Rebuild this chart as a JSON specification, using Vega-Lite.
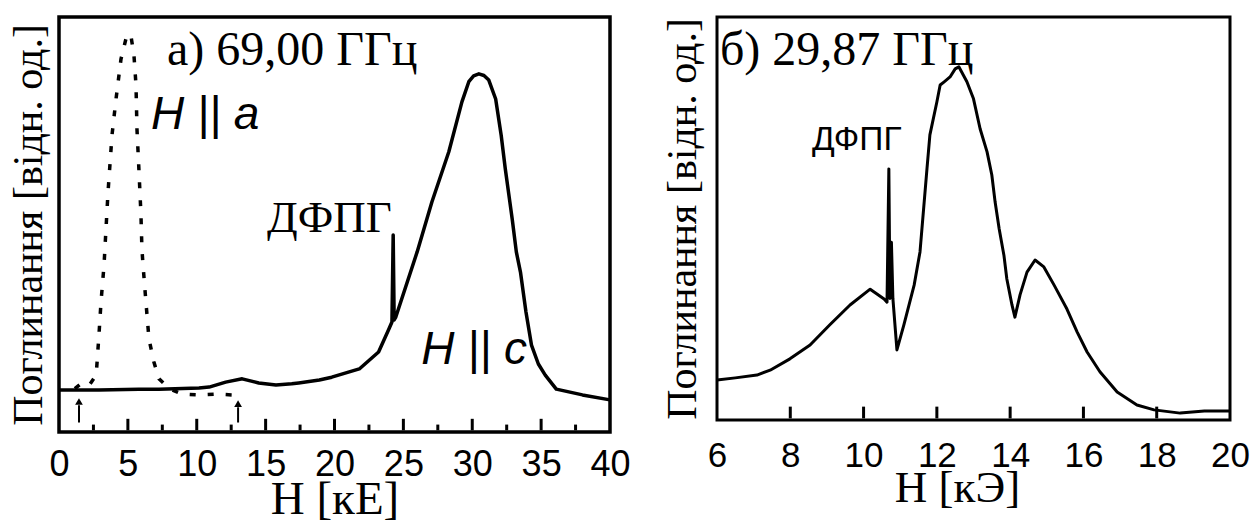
{
  "$schema": "https://vega.github.io/schema/vega-lite/v6.json",
  "background": "white",
  "padding": {"left": 5, "top": 15, "right": 0, "bottom": 0},
  "bounds": "flush",
  "spacing": 107,
  "config": {
    "axis": {"grid": false, "domain": false, "labelColor": "black", "titleColor": "black", "titleFontWeight": "normal"}
  },
  "datasets": {
    "left_c": [
      {"H": 0, "A": 10.2}, {"H": 2.9, "A": 10.2}, {"H": 5.8, "A": 10.4}, {"H": 7.26, "A": 10.4}, {"H": 10.16, "A": 10.7},
      {"H": 10.9, "A": 10.9}, {"H": 12.1, "A": 12.1}, {"H": 13.3, "A": 12.9}, {"H": 14.5, "A": 11.9}, {"H": 15.75, "A": 11.4},
      {"H": 16.9, "A": 11.7}, {"H": 17.4, "A": 11.9}, {"H": 18.9, "A": 12.6}, {"H": 19.8, "A": 13.3}, {"H": 21.8, "A": 15.3},
      {"H": 23.2, "A": 19.4}, {"H": 23.95, "A": 25.0}, {"H": 24.17, "A": 26.7}, {"H": 24.26, "A": 47.8}, {"H": 24.33, "A": 27.2},
      {"H": 24.45, "A": 27.9}, {"H": 26.0, "A": 43.7}, {"H": 27.07, "A": 55.8}, {"H": 28.3, "A": 68.0}, {"H": 29.25, "A": 80.1},
      {"H": 29.75, "A": 85.0}, {"H": 30.1, "A": 86.4}, {"H": 30.48, "A": 86.9}, {"H": 30.85, "A": 86.5}, {"H": 31.2, "A": 85.4},
      {"H": 31.7, "A": 80.8}, {"H": 32.1, "A": 72.0}, {"H": 32.4, "A": 63.8}, {"H": 32.9, "A": 51.7}, {"H": 33.2, "A": 43.7},
      {"H": 33.5, "A": 38.8}, {"H": 33.9, "A": 29.1}, {"H": 34.3, "A": 21.1}, {"H": 34.8, "A": 16.5}, {"H": 35.3, "A": 13.8},
      {"H": 36.1, "A": 10.4}, {"H": 38.0, "A": 9.0}, {"H": 40.0, "A": 7.8}
    ],
    "left_a": [
      {"H": 1.15, "A": 10.5}, {"H": 1.7, "A": 12.0}, {"H": 2.25, "A": 11.6}, {"H": 2.7, "A": 13.8}, {"H": 2.9, "A": 23.5},
      {"H": 3.05, "A": 31.6}, {"H": 3.27, "A": 40.5}, {"H": 3.34, "A": 44.9}, {"H": 3.56, "A": 58.3}, {"H": 3.85, "A": 72.1},
      {"H": 4.14, "A": 80.8}, {"H": 4.5, "A": 90.5}, {"H": 4.86, "A": 95.4}, {"H": 5.2, "A": 96.6}, {"H": 5.44, "A": 91.5},
      {"H": 5.59, "A": 84.2}, {"H": 5.66, "A": 73.5}, {"H": 5.8, "A": 63.8}, {"H": 5.95, "A": 52.7}, {"H": 6.02, "A": 44.4},
      {"H": 6.1, "A": 40.5}, {"H": 6.31, "A": 31.6}, {"H": 6.53, "A": 22.6}, {"H": 6.89, "A": 17.0}, {"H": 7.26, "A": 12.9},
      {"H": 8.0, "A": 10.5}, {"H": 8.93, "A": 9.2}, {"H": 10.16, "A": 9.0}, {"H": 11.39, "A": 9.2}, {"H": 12.55, "A": 9.0}
    ],
    "left_ticks": [
      {"H": 2.5, "A": 0.4, "A2": 1.8}, {"H": 5, "A": 0.4, "A2": 3.2}, {"H": 7.5, "A": 0.4, "A2": 1.8}, {"H": 10, "A": 0.4, "A2": 3.2},
      {"H": 12.5, "A": 0.4, "A2": 1.8}, {"H": 15, "A": 0.4, "A2": 3.2}, {"H": 17.5, "A": 0.4, "A2": 1.8}, {"H": 20, "A": 0.4, "A2": 3.2},
      {"H": 22.5, "A": 0.4, "A2": 1.8}, {"H": 25, "A": 0.4, "A2": 3.2}, {"H": 27.5, "A": 0.4, "A2": 1.8}, {"H": 30, "A": 0.4, "A2": 3.2},
      {"H": 32.5, "A": 0.4, "A2": 1.8}, {"H": 35, "A": 0.4, "A2": 3.2}, {"H": 37.5, "A": 0.4, "A2": 1.8}
    ],
    "right_ticks": [
      {"H": 8, "A": 0.4, "A2": 3.3}, {"H": 10, "A": 0.4, "A2": 3.3}, {"H": 12, "A": 0.4, "A2": 3.3},
      {"H": 14, "A": 0.4, "A2": 3.3}, {"H": 16, "A": 0.4, "A2": 3.3}, {"H": 18, "A": 0.4, "A2": 3.3}
    ],
    "arrows": [{"H": 1.45, "A": 2.3, "A2": 6.5}, {"H": 13.0, "A": 2.3, "A2": 6.0}],
    "heads": [{"H": 1.45, "A": 7.4}, {"H": 13.0, "A": 6.9}],
    "left_serif": [{"H": 7.84, "A": 89.1, "label": "а) 69,00 ГГц"}],
    "left_dpph": [{"H": 15.1, "A": 48.5, "label": "ДФПГ"}],
    "left_sans": [{"H": 6.68, "A": 73.5, "label": "H || a"}, {"H": 26.3, "A": 16.5, "label": "H || c"}],
    "right_c": [
      {"H": 6.0, "A": 9.9}, {"H": 6.5, "A": 10.4}, {"H": 7.09, "A": 11.1}, {"H": 7.45, "A": 12.3}, {"H": 7.99, "A": 15.1},
      {"H": 8.54, "A": 18.5}, {"H": 9.08, "A": 23.5}, {"H": 9.63, "A": 28.4}, {"H": 10.18, "A": 32.3}, {"H": 10.56, "A": 29.9},
      {"H": 10.64, "A": 29.1}, {"H": 10.69, "A": 62.0}, {"H": 10.72, "A": 30.0}, {"H": 10.76, "A": 43.9}, {"H": 10.8, "A": 30.0},
      {"H": 10.91, "A": 17.3}, {"H": 11.1, "A": 23.5}, {"H": 11.38, "A": 33.3}, {"H": 11.54, "A": 41.5}, {"H": 11.73, "A": 62.0},
      {"H": 11.81, "A": 70.4}, {"H": 12.0, "A": 78.5}, {"H": 12.09, "A": 82.7}, {"H": 12.2, "A": 83.5}, {"H": 12.36, "A": 84.7},
      {"H": 12.5, "A": 86.7}, {"H": 12.6, "A": 87.2}, {"H": 12.82, "A": 83.5}, {"H": 13.0, "A": 79.3}, {"H": 13.18, "A": 71.9},
      {"H": 13.37, "A": 66.2}, {"H": 13.5, "A": 60.5}, {"H": 13.59, "A": 53.8}, {"H": 13.7, "A": 47.2}, {"H": 13.83, "A": 40.7},
      {"H": 13.91, "A": 34.8}, {"H": 14.05, "A": 28.4}, {"H": 14.13, "A": 25.4}, {"H": 14.27, "A": 30.9}, {"H": 14.46, "A": 36.5},
      {"H": 14.68, "A": 39.5}, {"H": 14.92, "A": 37.8}, {"H": 15.2, "A": 33.3}, {"H": 15.55, "A": 27.4}, {"H": 15.83, "A": 21.7},
      {"H": 16.1, "A": 16.8}, {"H": 16.45, "A": 11.9}, {"H": 16.92, "A": 6.9}, {"H": 17.46, "A": 3.7}, {"H": 17.93, "A": 2.5},
      {"H": 18.64, "A": 1.7}, {"H": 19.3, "A": 2.2}, {"H": 20.0, "A": 2.2}
    ],
    "right_serif": [{"H": 6.08, "A": 87.7, "label": "б) 29,87 ГГц"}],
    "right_sans": [{"H": 8.59, "A": 66.7, "label": "ДФПГ"}]
  },
  "hconcat": [
    {
      "width": 551,
      "height": 415,
      "view": {"stroke": "black", "strokeWidth": 3.5},
      "encoding": {
        "x": {
          "field": "H", "type": "quantitative", "scale": {"domain": [0, 40], "nice": false, "zero": false},
          "axis": {
            "values": [0, 5, 10, 15, 20, 25, 30, 35, 40],
            "ticks": false,
            "labelFont": "Liberation Sans", "labelFontSize": 36, "labelPadding": 15, "labelFlush": false,
            "title": "H [кE]", "titleFont": "Liberation Serif", "titleFontSize": 47, "titleBaseline": "alphabetic", "titlePadding": 31
          }
        },
        "y": {
          "field": "A", "type": "quantitative",
          "scale": {"domain": [0, 100.7], "nice": false, "zero": false},
          "axis": {
            "labels": false, "ticks": false,
            "title": "Поглинання [відн. од.]", "titleFont": "Liberation Serif", "titleFontSize": 42,
            "titleBaseline": "alphabetic", "titlePadding": 18
          }
        }
      },
      "layer": [
        {"data": {"name": "left_c"}, "mark": {"type": "line", "color": "black", "strokeWidth": 3.5, "strokeJoin": "round"}},
        {"data": {"name": "left_a"}, "mark": {"type": "line", "color": "black", "strokeWidth": 3.5, "strokeDash": [6, 12], "strokeCap": "butt"}},
        {"data": {"name": "arrows"}, "mark": {"type": "rule", "color": "black", "strokeWidth": 2}, "encoding": {"y2": {"field": "A2"}}},
        {"data": {"name": "left_ticks"}, "mark": {"type": "rule", "color": "black", "strokeWidth": 3}, "encoding": {"y2": {"field": "A2"}}},
        {"data": {"name": "heads"}, "mark": {"type": "point", "shape": "triangle-up", "filled": true, "color": "black", "opacity": 1, "size": 60}},
        {"data": {"name": "left_serif"}, "mark": {"type": "text", "font": "Liberation Serif", "fontSize": 48, "align": "left", "baseline": "alphabetic", "color": "black"}, "encoding": {"text": {"field": "label"}}},
        {"data": {"name": "left_dpph"}, "mark": {"type": "text", "font": "Liberation Serif", "fontSize": 45, "align": "left", "baseline": "alphabetic", "color": "black"}, "encoding": {"text": {"field": "label"}}},
        {"data": {"name": "left_sans"}, "mark": {"type": "text", "font": "Liberation Sans", "fontStyle": "italic", "fontSize": 46, "align": "left", "baseline": "alphabetic", "color": "black"}, "encoding": {"text": {"field": "label"}}}
      ]
    },
    {
      "width": 513,
      "height": 403,
      "view": {"stroke": "black", "strokeWidth": 3},
      "encoding": {
        "x": {
          "field": "H", "type": "quantitative",
          "scale": {"domain": [6, 20], "nice": false, "zero": false},
          "axis": {
            "values": [6, 8, 10, 12, 14, 16, 18, 20],
            "ticks": false,
            "labelFont": "Liberation Sans", "labelFontSize": 35, "labelPadding": 18, "labelFlush": false,
            "title": "H [кЭ]", "titleFont": "Liberation Serif", "titleFontSize": 45, "titleBaseline": "alphabetic", "titlePadding": 28,
            "titleX": 240, "titleAlign": "center"
          }
        },
        "y": {
          "field": "A", "type": "quantitative",
          "scale": {"domain": [0, 99.5], "nice": false, "zero": false},
          "axis": {
            "labels": false, "ticks": false,
            "title": "Поглинання [відн. од.]", "titleFont": "Liberation Serif", "titleFontSize": 42,
            "titleBaseline": "alphabetic", "titlePadding": 22
          }
        }
      },
      "layer": [
        {"data": {"name": "right_c"}, "mark": {"type": "line", "color": "black", "strokeWidth": 3, "strokeJoin": "round"}},
        {"data": {"name": "right_ticks"}, "mark": {"type": "rule", "color": "black", "strokeWidth": 3}, "encoding": {"y2": {"field": "A2"}}},
        {"data": {"name": "right_serif"}, "mark": {"type": "text", "font": "Liberation Serif", "fontSize": 48, "align": "left", "baseline": "alphabetic", "color": "black"}, "encoding": {"text": {"field": "label"}}},
        {"data": {"name": "right_sans"}, "mark": {"type": "text", "font": "Liberation Sans", "fontSize": 33.5, "align": "left", "baseline": "alphabetic", "color": "black"}, "encoding": {"text": {"field": "label"}}}
      ]
    }
  ]
}
